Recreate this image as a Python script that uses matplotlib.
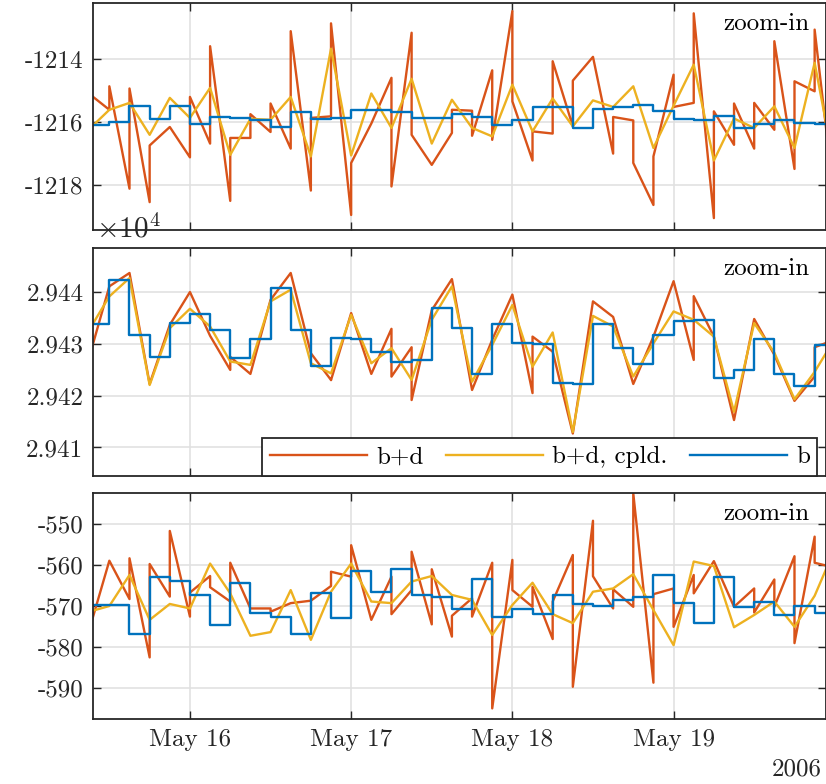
import numpy as np
import matplotlib
matplotlib.use("Agg")
import matplotlib.pyplot as plt
import matplotlib.dates as mdates
from matplotlib.ticker import FuncFormatter
from datetime import datetime, timedelta

plt.rcParams["font.family"] = "serif"
plt.rcParams["font.serif"] = ["cmr10"]
plt.rcParams["mathtext.fontset"] = "cm"
plt.rcParams["axes.formatter.use_mathtext"] = True

# 3-hour arcs, starting 2006-05-15 09:00
t_start = datetime(2006, 5, 15, 9, 0)
n_arcs = 37
edges = [t_start + timedelta(hours=3 * k) for k in range(n_arcs + 1)]

# ---- panel 1 ----
p1_bd_start = [-1215.10, -1214.86, -1214.93, -1216.75, -1216.16, -1215.20, -1213.58, -1216.51,
               -1215.75, -1215.41, -1213.10, -1215.87, -1212.85, -1217.31, -1216.05, -1218.06,
               -1216.41, -1217.37, -1215.61, -1216.44, -1216.57, -1215.34, -1216.30, -1214.06,
               -1214.68, -1213.92, -1215.84, -1217.31, -1217.10, -1215.52, -1212.53, -1215.66,
               -1215.41, -1215.39, -1213.42, -1214.70, -1213.05]
p1_bd_end = [-1215.61, -1218.13, -1218.56, -1216.16, -1217.13, -1216.69, -1218.52, -1216.51,
             -1216.32, -1216.85, -1218.19, -1215.82, -1218.97, -1216.05, -1214.59, -1213.15,
             -1217.37, -1216.35, -1215.64, -1214.35, -1212.46, -1217.23, -1216.37, -1216.14,
             -1213.92, -1217.01, -1215.95, -1218.65, -1214.49, -1215.39, -1219.07, -1216.73,
             -1216.85, -1216.25, -1217.50, -1215.02, -1218.60]
p1_cpld = [-1216.23, -1215.61, -1215.39, -1216.41, -1215.23, -1215.87, -1214.91, -1217.05,
           -1215.90, -1215.93, -1215.20, -1217.10, -1213.66, -1217.07, -1215.09, -1216.19,
           -1214.62, -1216.69, -1215.29, -1216.19, -1216.46, -1214.81, -1216.30, -1215.25,
           -1216.14, -1215.31, -1215.52, -1214.86, -1216.83, -1215.48, -1214.17, -1217.23,
           -1215.89, -1216.19, -1215.50, -1216.83, -1214.11, -1217.50]
p1_bias = [-1216.09, -1215.99, -1215.50, -1215.91, -1215.50, -1216.05, -1215.84, -1215.88,
           -1215.93, -1216.17, -1215.68, -1215.90, -1215.87, -1215.61, -1215.61, -1215.68,
           -1215.86, -1215.86, -1215.75, -1215.84, -1216.11, -1215.94, -1215.53, -1215.53,
           -1216.18, -1215.58, -1215.52, -1215.46, -1215.66, -1215.89, -1215.95, -1215.82,
           -1216.19, -1216.05, -1215.95, -1216.03, -1216.06]

# ---- panel 2 ----
p2_bd_start = [29427.4, 29441.1, 29443.68, 29422.26, 29433.68, 29440.0, 29431.55, 29427.5,
               29424.2, 29438.5, 29443.68, 29428.2, 29423.0, 29435.94, 29424.2, 29423.68,
               29419.16, 29436.5, 29442.5, 29421.1, 29430.8, 29439.5, 29431.4, 29428.5,
               29412.7, 29438.2, 29435.2, 29422.26, 29431.4, 29442.1, 29439.2, 29431.4,
               29415.3, 29434.8, 29427.9, 29419.0, 29429.35]
p2_bd_end = [29441.1, 29443.68, 29422.26, 29433.68, 29440.0, 29431.55, 29424.97, 29424.2,
             29438.5, 29443.68, 29428.2, 29423.03, 29435.94, 29424.2, 29432.9, 29429.35,
             29436.5, 29442.5, 29421.1, 29430.8, 29439.5, 29420.5, 29428.5, 29412.7,
             29438.2, 29435.2, 29422.26, 29431.4, 29442.1, 29426.9, 29431.4, 29415.3,
             29434.8, 29427.9, 29419.0, 29423.7, 29430.8]
p2_cpld = [29432.7, 29439.16, 29442.7, 29422.06, 29433.03, 29436.77, 29433.35, 29426.6,
           29425.94, 29438.2, 29440.45, 29426.26, 29424.3, 29435.6, 29426.26, 29429.16,
           29423.03, 29434.65, 29441.1, 29422.7, 29429.8, 29437.5, 29425.6, 29432.2,
           29413.0, 29435.4, 29433.35, 29423.7, 29430.1, 29436.26, 29434.65, 29431.4,
           29416.9, 29434.0, 29428.3, 29419.3, 29424.6, 29431.0]
p2_bias = [29433.74, 29442.39, 29431.8, 29427.4, 29434.06, 29435.8, 29432.7, 29427.35,
           29430.97, 29440.77, 29432.7, 29425.74, 29431.1, 29430.9, 29428.5, 29426.45,
           29426.9, 29437.0, 29432.97, 29424.2, 29433.74, 29430.1, 29429.9, 29422.5,
           29422.26, 29433.8, 29429.2, 29426.06, 29431.8, 29434.5, 29434.6, 29423.5,
           29424.97, 29431.03, 29424.2, 29421.9, 29429.7]

# ---- panel 3 ----
p3_bd_start = [-575.9, -558.9, -558.3, -559.7, -551.6, -566.7, -565.4, -559.4,
               -570.6, -571.4, -569.3, -568.7, -561.6, -555.1, -573.4, -572.0,
               -556.7, -561.0, -572.4, -572.6, -595.1, -566.1, -565.3, -568.9,
               -589.8, -562.7, -565.9, -542.4, -567.1, -575.1, -566.9, -559.0,
               -570.2, -571.6, -570.2, -579.1, -559.4]
p3_bd_end = [-558.9, -568.3, -582.6, -567.7, -572.6, -562.65, -568.9, -570.6,
             -570.6, -569.3, -568.7, -565.1, -562.8, -573.4, -562.8, -566.1,
             -574.5, -577.5, -568.1, -559.4, -558.7, -570.2, -578.1, -557.5,
             -549.1, -570.6, -570.2, -588.8, -565.7, -562.4, -559.0, -570.2,
             -565.7, -563.5, -557.8, -553.0, -560.6]
p3_cpld = [-571.4, -570.0, -562.4, -573.4, -569.5, -570.6, -559.6, -566.9,
           -577.3, -576.4, -566.1, -578.3, -566.5, -559.6, -568.9, -569.3,
           -564.0, -562.65, -567.3, -568.5, -577.1, -569.75, -564.3, -572.0,
           -574.2, -566.5, -565.7, -562.2, -571.0, -579.6, -559.1, -560.2,
           -575.2, -572.2, -568.9, -575.1, -567.5, -556.0]
p3_bias = [-569.8, -569.8, -576.9, -562.98, -563.8, -567.3, -574.65, -564.45,
           -571.8, -572.6, -576.86, -566.7, -573.0, -561.4, -566.6, -560.9,
           -567.3, -567.9, -570.7, -563.5, -572.6, -570.8, -572.0, -567.3,
           -569.6, -569.9, -568.5, -567.7, -562.4, -569.3, -574.2, -562.8,
           -570.3, -568.9, -572.2, -569.9, -571.8]

C_BD = "#D95319"
C_CPLD = "#EDB120"
C_B = "#0072BD"
DARK = "#262626"

panels = [
    (p1_bd_start, p1_bd_end, p1_cpld, p1_bias, (-1219.45, -1212.2), [-1218, -1216, -1214]),
    (p2_bd_start, p2_bd_end, p2_cpld, p2_bias, (29404.5, 29448.5), [29410, 29420, 29430, 29440]),
    (p3_bd_start, p3_bd_end, p3_cpld, p3_bias, (-597.7, -542.3), [-590, -580, -570, -560, -550]),
]

W, H = 826, 784
fig = plt.figure(figsize=(W / 100, H / 100), dpi=100)
# axes boxes in pixels: (top, bottom)
boxes = [(3, 230), (248, 476), (493, 719)]
left_px, right_px = 93, 825.5

x_lo = mdates.date2num(datetime(2006, 5, 15, 9, 34))
x_hi = mdates.date2num(datetime(2006, 5, 19, 22, 37))
edge_num = mdates.date2num(edges)

axes = []
for i, (bd_a, bd_b, cpld, bias, ylim, yticks) in enumerate(panels):
    top, bot = boxes[i]
    ax = fig.add_axes([left_px / W, 1 - bot / H, (right_px - left_px) / W, (bot - top) / H])
    axes.append(ax)

    # bias + drift: separate linear piece on each arc
    xs = np.column_stack([edge_num[:-1], edge_num[1:]]).ravel()
    ys = np.column_stack([bd_a, bd_b]).ravel()
    ax.plot(xs, ys, color=C_BD, lw=1.7, label="b+d")
    ax.plot(edge_num, cpld, color=C_CPLD, lw=1.7, label="b+d, cpld.")
    ax.step(edge_num, list(bias) + [bias[-1]], where="post", color=C_B, lw=1.7, label="b")

    ax.set_xlim(x_lo, x_hi)
    ax.set_ylim(*ylim)
    ax.set_yticks(yticks)
    ax.xaxis.set_major_locator(mdates.DayLocator())
    ax.xaxis.set_major_formatter(mdates.DateFormatter("%b %d"))
    ax.grid(True, color="#e1e1e1", lw=1.2)
    ax.set_axisbelow(True)
    ax.tick_params(direction="in", top=True, right=True, length=6, width=1.0,
                   color=DARK, labelsize=18, labelcolor=DARK, pad=7)
    for s in ax.spines.values():
        s.set_color(DARK)
        s.set_linewidth(1.3)
    if i < 2:
        ax.tick_params(labelbottom=False)
    ax.text(0.978, 1 - 21 / (bot - top), "zoom-in", transform=ax.transAxes,
            ha="right", va="center", fontsize=18, color="black")

axes[0].yaxis.set_major_formatter(FuncFormatter(lambda v, p: f"{v:.0f}"))
axes[1].yaxis.set_major_formatter(FuncFormatter(lambda v, p: f"{v / 1e4:.3f}"))
axes[2].yaxis.set_major_formatter(FuncFormatter(lambda v, p: f"{v:.0f}"))

axes[1].annotate(r"$\times10^{4}$", xy=(0, 1), xycoords="axes fraction",
                 xytext=(2, 3), textcoords="offset points", ha="left", va="bottom",
                 fontsize=21, color=DARK, zorder=10, annotation_clip=False)

leg = axes[1].legend(loc="lower right", bbox_to_anchor=(0.989, 0.0), ncol=3,
                     handlelength=3.9, handletextpad=0.35, columnspacing=0.9,
                     borderaxespad=0, borderpad=0.3, fancybox=False, framealpha=1,
                     edgecolor=DARK, fontsize=18)
leg.get_frame().set_linewidth(1.3)

fig.text(822 / W, 1 - 769 / H, "2006", ha="right", va="center", fontsize=18, color=DARK)

fig.savefig("out.png", dpi=100)
